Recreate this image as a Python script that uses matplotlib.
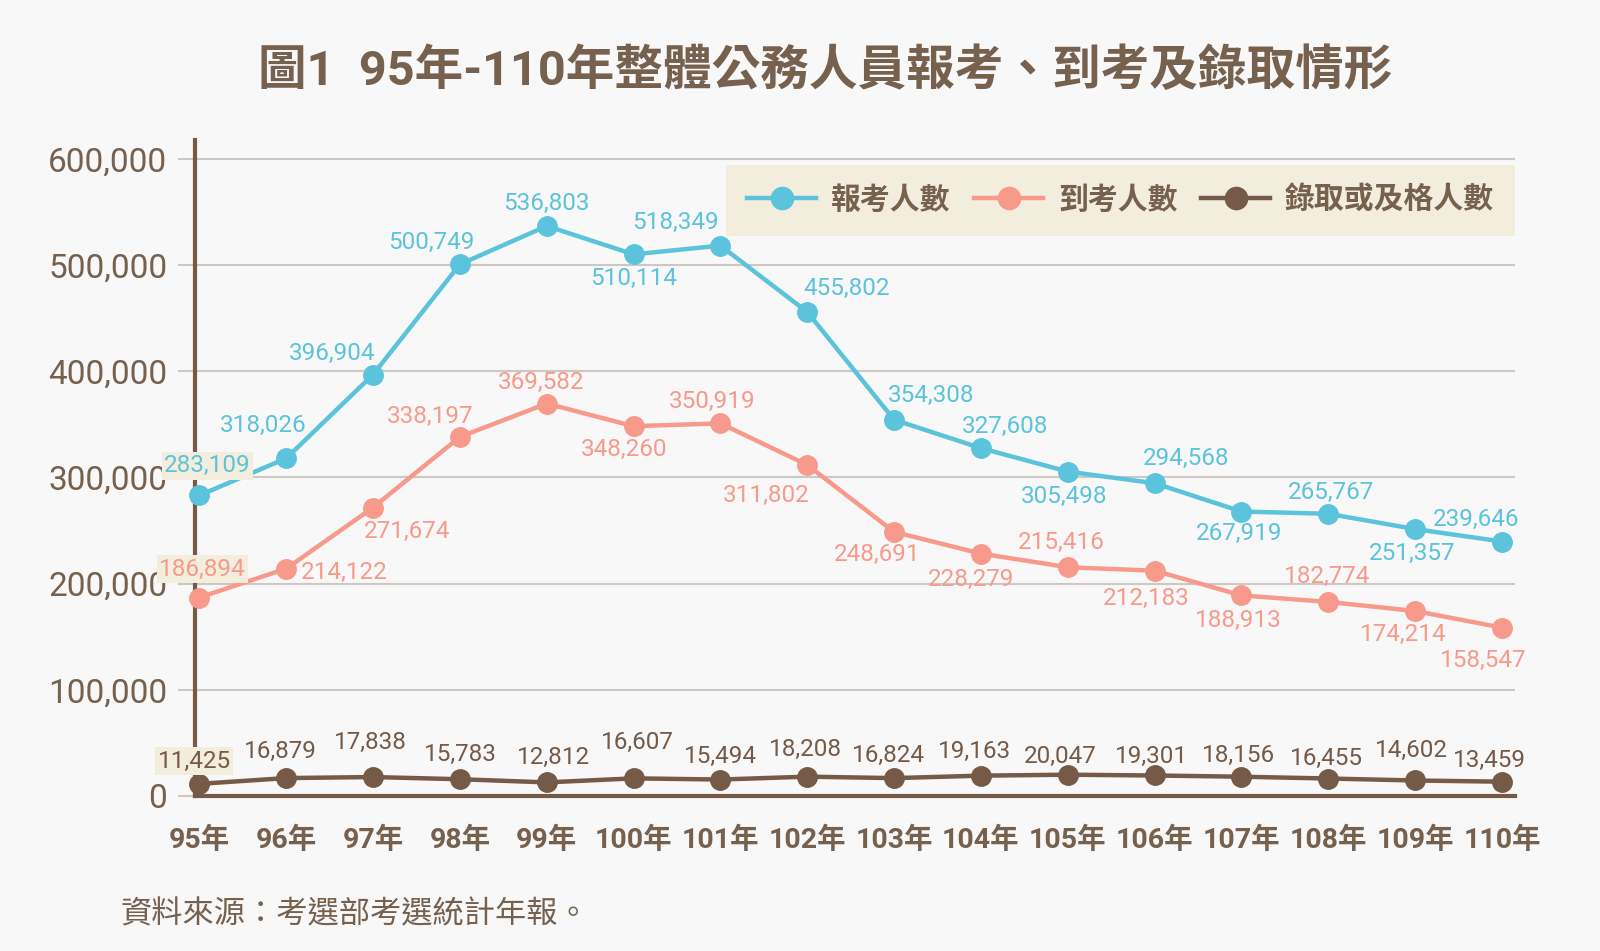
import matplotlib
matplotlib.use("Agg")
import matplotlib.pyplot as plt
from matplotlib.ticker import FuncFormatter
from matplotlib.lines import Line2D

plt.rcParams['font.family'] = ['Roboto', 'Noto Sans CJK TC', 'DejaVu Sans']

# data
years = ["95年", "96年", "97年", "98年", "99年", "100年", "101年", "102年",
         "103年", "104年", "105年", "106年", "107年", "108年", "109年", "110年"]
applied = [283109, 318026, 396904, 500749, 536803, 510114, 518349, 455802,
           354308, 327608, 305498, 294568, 267919, 265767, 251357, 239646]
attended = [186894, 214122, 271674, 338197, 369582, 348260, 350919, 311802,
            248691, 228279, 215416, 212183, 188913, 182774, 174214, 158547]
passed = [11425, 16879, 17838, 15783, 12812, 16607, 15494, 18208,
          16824, 19163, 20047, 19301, 18156, 16455, 14602, 13459]
names = ["報考人數", "到考人數", "錄取或及格人數"]

# label offsets (px, relative to the point; y down)
off_applied = [(8, -29), (-23, -32), (-40, -21), (-28, -21), (0, -22), (0, 24),
               (-44, -23), (39, -23), (36, -24), (24, -21), (-4, 24), (31, -24),
               (-2, 22), (3, -21), (-3, 24), (-25, -22)]
off_attended = [(3, -28), (57, 4), (33, 23), (-29, -20), (-6, -21), (-9, 23),
                (-8, -21), (-40, 30), (-17, 22), (-10, 25), (-6, -24), (-8, 27),
                (-3, 25), (-1, -25), (-12, 23), (-18, 32)]
off_passed = [(-5, -22), (-6, -26), (-3, -34), (0, -24), (7, -24), (4, -35),
              (0, -23), (-2, -27), (-6, -22), (-6, -24), (-7, -18), (-3, -19),
              (-3, -21), (-2, -20), (-4, -29), (-12, -21)]

BLUE = "#5BC3DC"
SALMON = "#F89A8B"
BROWN = "#745A47"
TXT = "#76614F"
GRID = "#CFC7C2"
BG = "#F8F8F8"
BEIGE = "#F2EDDD"

fig = plt.figure(figsize=(16, 9.51), dpi=100, facecolor=BG)
ax = fig.add_axes([0.1219, 0.163, 0.825, 0.690])
ax.set_facecolor(BG)

x = list(range(len(years)))
series = [(applied, BLUE, off_applied), (attended, SALMON, off_attended),
          (passed, BROWN, off_passed)]
k = 1.02 / 1.389  # px -> pt
for vals, col, offs in series:
    ax.plot(x, vals, color=col, lw=3.2, marker='o', ms=14, mec=col, mfc=col,
            zorder=3, clip_on=False)
    for i, v in enumerate(vals):
        dx, dy = offs[i]
        bbox = None
        if i == 0:
            bbox = dict(boxstyle="square,pad=0.1", fc=BEIGE, ec="none")
        ax.annotate(f"{v:,}", (i, v), xytext=(dx * k, -dy * k),
                    textcoords="offset points", ha="center", va="center",
                    fontsize=17.5, color=col, bbox=bbox, zorder=6)

ax.set_xlim(-0.05, 15.15)
ax.set_ylim(0, 618000)
ax.set_yticks(range(0, 600001, 100000))
ax.yaxis.set_major_formatter(FuncFormatter(lambda v, p: f"{int(v):,}"))
ax.set_xticks(x)
ax.set_xticklabels(years, fontsize=20.5, fontweight="bold", color=TXT)
ax.tick_params(axis='x', length=0, pad=22)
ax.tick_params(axis='y', length=12, width=1.5, color=GRID, labelsize=24,
               labelcolor=TXT, pad=8)
ax.grid(axis='y', color=GRID, lw=1.5)
ax.set_axisbelow(True)
for s in ["top", "right"]:
    ax.spines[s].set_visible(False)
ax.spines["left"].set_color(BROWN)
ax.spines["left"].set_linewidth(3)
ax.spines["bottom"].set_color(BROWN)
ax.spines["bottom"].set_linewidth(3)

handles = [Line2D([], [], color=c, lw=3.2, marker='o', ms=16)
           for c in (BLUE, SALMON, BROWN)]
leg = ax.legend(handles, names, loc="upper right", bbox_to_anchor=(1.0, 0.962),
                borderaxespad=0, ncol=3, frameon=True, fancybox=False,
                fontsize=21.5, handlelength=2.3, columnspacing=0.8,
                handletextpad=0.5, borderpad=0.7, labelcolor=TXT)
leg.get_frame().set_facecolor(BEIGE)
leg.get_frame().set_edgecolor("none")
leg.get_frame().set_alpha(1)
leg.set_zorder(5)
for t in leg.get_texts():
    t.set_fontweight("bold")

fig.text(0.516, 0.925, "圖1  95年-110年整體公務人員報考、到考及錄取情形",
         ha="center", va="center", fontsize=35, fontweight="bold", color=TXT)
fig.text(0.075, 0.038, "資料來源：考選部考選統計年報。", ha="left", va="center",
         fontsize=22.5, color=TXT)

fig.savefig("out.png", dpi=100, facecolor=BG)
